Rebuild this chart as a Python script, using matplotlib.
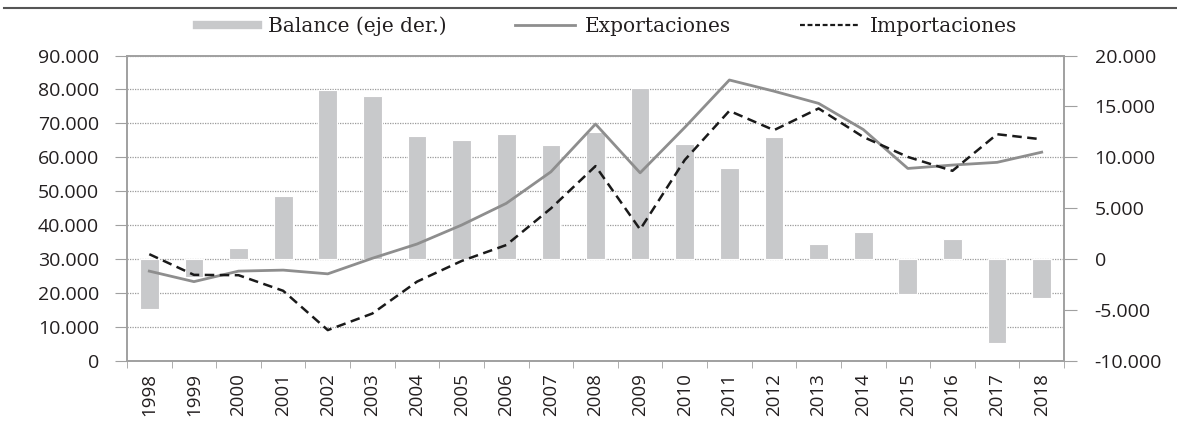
import matplotlib
matplotlib.use("Agg")
import matplotlib.pyplot as plt
from matplotlib.lines import Line2D
from matplotlib.ticker import FuncFormatter

years = [str(y) for y in range(1998, 2019)]

# Exportaciones / Importaciones (eje izq.), Balance (eje der.)
exportaciones = [26400, 23300, 26400, 26700, 25600, 30200, 34400, 40000, 46400, 55700,
                 69800, 55400, 68800, 82800, 79500, 75900, 68200, 56700, 57700, 58500, 61500]
importaciones = [31400, 25300, 25200, 20600, 9000, 13900, 23300, 29400, 34100, 44900,
                 57400, 38700, 59200, 73700, 68000, 74400, 66000, 60100, 56000, 66800, 65300]
balance = [-4900, -1800, 1050, 6230, 16630, 16040, 12100, 11710, 12330, 11220,
           12530, 16830, 11320, 8990, 11970, 1510, 2660, -3440, 1930, -8300, -3800]

left_ticks = list(range(0, 90001, 10000))
right_ticks = list(range(-10000, 20001, 5000))

TICK_FONT = "Open Sans"
LEG_FONT = "DejaVu Serif"
TXT = "#231f20"
SPINE = "#a0a0a0"


def miles(v, pos):
    return f"{int(v):,}".replace(",", ".")


fig = plt.figure(figsize=(11.77, 4.30), dpi=100)
pos = [0.1079, 0.1614, 0.904 - 0.1079, 0.8707 - 0.1614]

# background axis: left scale, grid
ax = fig.add_axes(pos)
ax.set_ylim(0, 90000)
ax.set_xlim(-0.5, len(years) - 0.5)
ax.set_yticks(left_ticks)
ax.yaxis.set_major_formatter(FuncFormatter(miles))
ax.grid(axis="y", color="#9a9a9a", lw=0.9, ls=(0, (1, 1)))
ax.set_axisbelow(True)
ax.set_xticks(range(len(years)))
ax.set_xticklabels(years, rotation=90, fontsize=13.5, family=TICK_FONT, color=TXT)
ax.set_xticks([i - 0.5 for i in range(len(years) + 1)], minor=True)
ax.tick_params(axis="x", which="major", length=0, pad=9)
ax.tick_params(axis="x", which="minor", length=5, color=SPINE)
ax.tick_params(axis="y", length=9, color=SPINE, labelsize=14, labelcolor=TXT, pad=11)
for lab in ax.get_yticklabels():
    lab.set_family(TICK_FONT)
for s in ax.spines.values():
    s.set_color(SPINE)
    s.set_linewidth(1.2)
ax.set_zorder(0)

# right axis: balance bars
ax2 = ax.twinx()
ax2.bar(range(len(years)), balance, width=0.42, color="#c8c9cb",
        edgecolor="white", linewidth=0.8)
ax2.set_ylim(-10000, 20000)
ax2.set_yticks(right_ticks)
ax2.yaxis.set_major_formatter(FuncFormatter(miles))
ax2.tick_params(axis="y", length=9, color=SPINE, labelsize=14, labelcolor=TXT, pad=13)
for lab in ax2.get_yticklabels():
    lab.set_family(TICK_FONT)
for s in ax2.spines.values():
    s.set_color(SPINE)
    s.set_linewidth(1.2)
ax2.set_zorder(1)
ax2.patch.set_visible(False)

# lines on left scale, on top of bars
ax3 = ax.twinx()
ax3.set_ylim(0, 90000)
ax3.plot(range(len(years)), exportaciones, color="#8e8e8e", lw=2.0)
ax3.plot(range(len(years)), importaciones, color="#1a1a1a", lw=1.8, ls=(0, (3.8, 2.2)))
ax3.axis("off")
ax3.set_zorder(2)
ax3.patch.set_visible(False)

handles = [
    Line2D([], [], color="#c8c9cb", lw=6),
    Line2D([], [], color="#8e8e8e", lw=2.0),
    Line2D([], [], color="#1a1a1a", lw=1.6, ls=(0, (2.2, 1.2))),
]
labels = ["Balance (eje der.)", "Exportaciones", "Importaciones"]
fig.legend(handles, labels, loc="center", bbox_to_anchor=(0.516, 0.94), ncol=3,
           frameon=False, handlelength=3.0, handletextpad=0.5, columnspacing=3.4,
           prop={"family": LEG_FONT, "size": 14.5}, labelcolor=TXT)

# top rule
fig.add_artist(Line2D([0.003, 1.0], [0.981, 0.981], transform=fig.transFigure,
                      color="#555555", lw=1.5))

fig.savefig("out.png", dpi=100)
